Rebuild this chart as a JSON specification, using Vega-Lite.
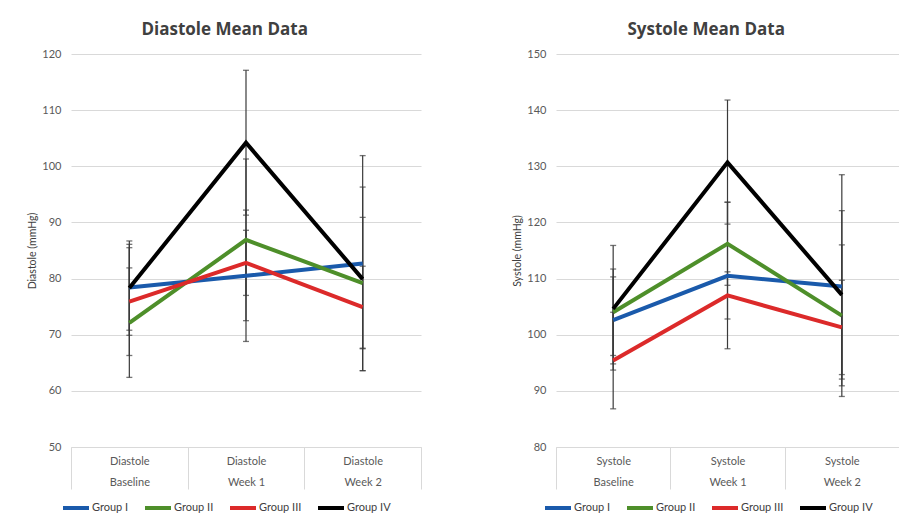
{
  "$schema": "https://vega.github.io/schema/vega-lite/v6.json",
  "padding": {"left": 27, "top": 21, "right": 0, "bottom": 0},
  "background": "white",
  "spacing": 90,
  "datasets": {
    "dia": [
      {"group": "Group I", "time": "Baseline", "mean": 78.4, "lo": 70.8, "hi": 86.1},
      {"group": "Group I", "time": "Week 1", "mean": 80.5, "lo": 68.8, "hi": 92.2},
      {"group": "Group I", "time": "Week 2", "mean": 82.7, "lo": 63.6, "hi": 101.9},
      {"group": "Group II", "time": "Baseline", "mean": 72.1, "lo": 62.4, "hi": 81.9},
      {"group": "Group II", "time": "Week 1", "mean": 86.9, "lo": 72.5, "hi": 101.3},
      {"group": "Group II", "time": "Week 2", "mean": 79.2, "lo": 67.5, "hi": 90.9},
      {"group": "Group III", "time": "Baseline", "mean": 75.9, "lo": 66.3, "hi": 85.5},
      {"group": "Group III", "time": "Week 1", "mean": 82.8, "lo": 77.0, "hi": 88.6},
      {"group": "Group III", "time": "Week 2", "mean": 74.9, "lo": 67.6, "hi": 82.2},
      {"group": "Group IV", "time": "Baseline", "mean": 78.3, "lo": 69.9, "hi": 86.7},
      {"group": "Group IV", "time": "Week 1", "mean": 104.2, "lo": 91.3, "hi": 117.1},
      {"group": "Group IV", "time": "Week 2", "mean": 79.9, "lo": 63.6, "hi": 96.3}
    ],
    "sys": [
      {"group": "Group I", "time": "Baseline", "mean": 102.6, "lo": 94.8, "hi": 110.3},
      {"group": "Group I", "time": "Week 1", "mean": 110.5, "lo": 97.5, "hi": 123.6},
      {"group": "Group I", "time": "Week 2", "mean": 108.6, "lo": 89.0, "hi": 128.5},
      {"group": "Group II", "time": "Baseline", "mean": 104.0, "lo": 96.3, "hi": 111.7},
      {"group": "Group II", "time": "Week 1", "mean": 116.2, "lo": 108.8, "hi": 123.6},
      {"group": "Group II", "time": "Week 2", "mean": 103.4, "lo": 90.9, "hi": 116.0},
      {"group": "Group III", "time": "Baseline", "mean": 95.4, "lo": 86.8, "hi": 104.0},
      {"group": "Group III", "time": "Week 1", "mean": 107.0, "lo": 102.8, "hi": 111.2},
      {"group": "Group III", "time": "Week 2", "mean": 101.3, "lo": 92.9, "hi": 109.7},
      {"group": "Group IV", "time": "Baseline", "mean": 104.6, "lo": 93.7, "hi": 115.9},
      {"group": "Group IV", "time": "Week 1", "mean": 130.7, "lo": 119.7, "hi": 141.8},
      {"group": "Group IV", "time": "Week 2", "mean": 107.1, "lo": 92.1, "hi": 122.1}
    ]
  },
  "config": {
    "font": "Lato",
    "view": {"stroke": null},
    "axis": {
      "labelFont": "Lato", "labelFontSize": 11, "labelColor": "#595959",
      "titleFont": "Lato", "titleFontSize": 10.5, "titleColor": "#404040", "titleFontWeight": "normal",
      "gridColor": "#d9d9d9", "domainColor": "#d9d9d9", "tickColor": "#d9d9d9"
    },
    "title": {"font": "Open Sans", "fontSize": 17, "fontWeight": "bold", "color": "#404040", "frame": "bounds", "offset": 9},
    "legend": {
      "orient": "none", "direction": "horizontal", "title": null,
      "symbolType": "stroke", "symbolStrokeWidth": 4, "symbolSize": 676,
      "labelOffset": 1, "columnPadding": 8, "padding": 0,
      "labelFont": "Lato", "labelFontSize": 11, "labelColor": "#404040"
    }
  },
  "resolve": {"scale": {"color": "independent", "x": "independent", "y": "independent"}, "legend": {"color": "independent"}},
  "hconcat": [
    {
      "title": "Diastole Mean Data",
      "width": 350, "height": 393,
      "data": {"name": "dia"},
      "encoding": {
        "x": {
          "field": "time", "type": "nominal", "sort": ["Baseline", "Week 1", "Week 2"],
          "scale": {"type": "band", "paddingInner": 0, "paddingOuter": 0},
          "axis": {"title": null, "tickBand": "extent", "tickSize": 42, "labelPadding": -34,
                   "labelExpr": "datum.label ? ['Diastole', datum.label] : ''", "labelLineHeight": 21, "labelAngle": 0}
        }
      },
      "layer": [
        {
          "mark": {"type": "rule", "color": "#3a3a3a", "strokeWidth": 1.2},
          "encoding": {
            "y": {"field": "lo", "type": "quantitative", "scale": {"domain": [50, 120]},
                  "axis": {"title": "Diastole (mmHg)", "values": [50, 60, 70, 80, 90, 100, 110, 120], "ticks": false, "domain": false, "grid": true, "labelPadding": 10, "titlePadding": 4}},
            "y2": {"field": "hi"}
          }
        },
        {
          "mark": {"type": "tick", "color": "#3a3a3a", "size": 6, "thickness": 1.3},
          "encoding": {"y": {"field": "lo", "type": "quantitative", "axis": {"title": "Diastole (mmHg)"}}}
        },
        {
          "mark": {"type": "tick", "color": "#3a3a3a", "size": 6, "thickness": 1.3},
          "encoding": {"y": {"field": "hi", "type": "quantitative", "axis": {"title": "Diastole (mmHg)"}}}
        },
        {
          "mark": {"type": "line", "strokeWidth": 4},
          "encoding": {
            "y": {"field": "mean", "type": "quantitative", "axis": {"title": "Diastole (mmHg)"}},
            "color": {"field": "group", "type": "nominal",
                      "scale": {"domain": ["Group I", "Group II", "Group III", "Group IV"], "range": ["#1a5aab", "#4e8f2a", "#dc2a2a", "#000000"]},
                      "legend": {"legendX": -10, "legendY": 439}}
          }
        }
      ]
    },
    {
      "title": "Systole Mean Data",
      "width": 343, "height": 393,
      "data": {"name": "sys"},
      "encoding": {
        "x": {
          "field": "time", "type": "nominal", "sort": ["Baseline", "Week 1", "Week 2"],
          "scale": {"type": "band", "paddingInner": 0, "paddingOuter": 0},
          "axis": {"title": null, "tickBand": "extent", "tickSize": 42, "labelPadding": -34,
                   "labelExpr": "datum.label ? ['Systole', datum.label] : ''", "labelLineHeight": 21, "labelAngle": 0}
        }
      },
      "layer": [
        {
          "mark": {"type": "rule", "color": "#3a3a3a", "strokeWidth": 1.2},
          "encoding": {
            "y": {"field": "lo", "type": "quantitative", "scale": {"domain": [80, 150]},
                  "axis": {"title": "Systole (mmHg)", "values": [80, 90, 100, 110, 120, 130, 140, 150], "ticks": false, "domain": false, "grid": true, "labelPadding": 10, "titlePadding": 4}},
            "y2": {"field": "hi"}
          }
        },
        {
          "mark": {"type": "tick", "color": "#3a3a3a", "size": 6, "thickness": 1.3},
          "encoding": {"y": {"field": "lo", "type": "quantitative", "axis": {"title": "Systole (mmHg)"}}}
        },
        {
          "mark": {"type": "tick", "color": "#3a3a3a", "size": 6, "thickness": 1.3},
          "encoding": {"y": {"field": "hi", "type": "quantitative", "axis": {"title": "Systole (mmHg)"}}}
        },
        {
          "mark": {"type": "line", "strokeWidth": 4},
          "encoding": {
            "y": {"field": "mean", "type": "quantitative", "axis": {"title": "Systole (mmHg)"}},
            "color": {"field": "group", "type": "nominal",
                      "scale": {"domain": ["Group I", "Group II", "Group III", "Group IV"], "range": ["#1a5aab", "#4e8f2a", "#dc2a2a", "#000000"]},
                      "legend": {"legendX": -13, "legendY": 439}}
          }
        }
      ]
    }
  ]
}
